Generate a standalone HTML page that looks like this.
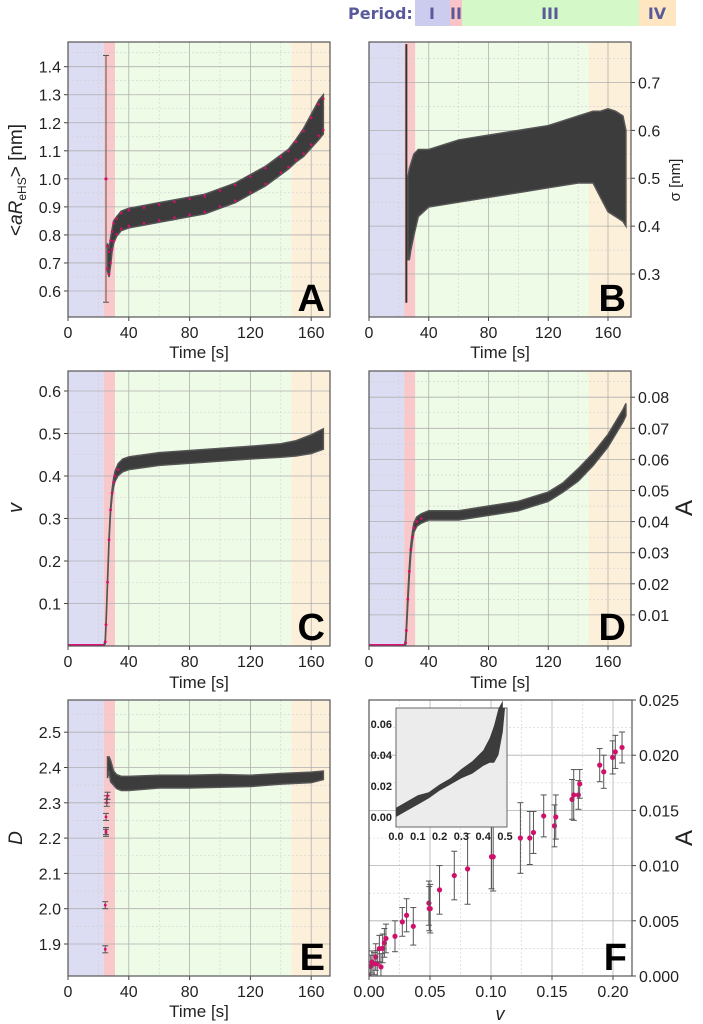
<!DOCTYPE html>
<html><head><meta charset="utf-8"><style>
body{margin:0;background:#fff;width:703px;height:1024px;overflow:hidden}
svg{display:block;font-family:"Liberation Sans",sans-serif}
</style></head><body>
<svg id="fig" width="703" height="1024" viewBox="0 0 703 1024">
<defs id="defs"></defs>
<g>
<rect x="415" y="0" width="35" height="26" fill="#cccdee"/>
<rect x="450" y="0" width="12" height="26" fill="#f8c4c8"/>
<rect x="462" y="0" width="177" height="26" fill="#d4f8c8"/>
<rect x="639" y="0" width="37" height="26" fill="#fde6c0"/>
<g fill="#5a5a9a" font-weight="bold" font-size="16" font-family="'DejaVu Sans',sans-serif">
<text x="348" y="19">Period:</text>
<text x="432" y="19" text-anchor="middle">I</text>
<text x="456" y="19" text-anchor="middle">II</text>
<text x="550" y="19" text-anchor="middle">III</text>
<text x="657" y="19" text-anchor="middle">IV</text>
</g></g>
</svg>
<script>
// ---------- data ----------
const periodBounds = [0, 23.5, 31, 147, 175];
// Panel A
const aTimes = [25,26,27,28,29,30,32,35,40,50,60,70,80,90,100,110,120,130,140,145,150,155,160,165,168];
const aMean  = [1.0,0.72,0.70,0.74,0.78,0.81,0.83,0.85,0.86,0.87,0.88,0.89,0.90,0.91,0.93,0.95,0.98,1.01,1.05,1.07,1.10,1.13,1.17,1.21,1.23];
const aHalf  = [0.45,0.05,0.05,0.05,0.04,0.04,0.035,0.035,0.035,0.035,0.035,0.035,0.035,0.035,0.035,0.035,0.035,0.035,0.035,0.035,0.04,0.05,0.06,0.07,0.07];
// Panel B
const bTimes = [25,26,27,28,30,33,40,60,80,100,120,140,150,155,160,165,170,172];
const bTop   = [0.78,0.50,0.52,0.53,0.55,0.56,0.56,0.58,0.59,0.60,0.61,0.63,0.64,0.64,0.645,0.64,0.63,0.60];
const bBot   = [0.24,0.33,0.33,0.35,0.38,0.42,0.44,0.45,0.46,0.47,0.48,0.49,0.49,0.46,0.43,0.42,0.41,0.40];
// Panel C
const cTimes = [0,23.5,24.5,25,26,27,28,29,30,31,33,36,40,60,80,100,120,140,150,160,168];
const cMean  = [0,0,0.01,0.05,0.15,0.25,0.32,0.36,0.385,0.40,0.415,0.425,0.43,0.44,0.445,0.45,0.455,0.46,0.465,0.475,0.487];
const cHalf  = [0,0,0.005,0.006,0.006,0.006,0.006,0.008,0.01,0.012,0.014,0.015,0.015,0.015,0.015,0.015,0.015,0.016,0.018,0.022,0.024];
// Panel D
const dTimes = [0,23.5,24.5,25,26,27,28,29,30,32,35,40,60,80,100,120,130,140,150,160,170,172];
const dMean  = [0,0,0.001,0.005,0.015,0.024,0.031,0.035,0.038,0.040,0.041,0.042,0.042,0.0435,0.045,0.048,0.051,0.055,0.060,0.066,0.074,0.076];
const dHalf  = [0,0,0.001,0.001,0.0015,0.0015,0.0015,0.0015,0.0015,0.0015,0.0015,0.0015,0.0015,0.0015,0.0015,0.0015,0.0015,0.002,0.002,0.002,0.002,0.002];
// Panel E
const eTimes = [26,27,28,30,32,35,40,60,80,100,120,140,160,168];
const eMean  = [2.40,2.41,2.39,2.37,2.36,2.355,2.355,2.36,2.36,2.362,2.362,2.368,2.372,2.378];
const eHalf  = [0.03,0.02,0.03,0.02,0.02,0.02,0.02,0.018,0.018,0.018,0.016,0.015,0.015,0.012];
const eEarlyT = [24.5,24.5,25,25,25,25.5,25.5,26];
const eEarlyV = [1.885,2.01,2.215,2.22,2.26,2.30,2.31,2.32];
// Panel F
const fV   = [0,0.0014,0.0025,0.0041,0.0055,0.0068,0.0085,0.0098,0.0112,0.0126,0.0139,0.0213,0.0273,0.0308,0.0363,0.0491,0.0494,0.0502,0.0578,0.0699,0.0808,0.1004,0.1018,0.1241,0.1318,0.1348,0.1432,0.1520,0.1531,0.1664,0.1678,0.1716,0.1727,0.1891,0.1924,0.1997,0.2019,0.2074];
const fA   = [0,0.00088,0.00127,0.00112,0.00172,0.00112,0.00248,0.00082,0.0025,0.0030,0.0034,0.0036,0.0049,0.0055,0.0045,0.0066,0.0061,0.0061,0.0078,0.0091,0.0097,0.0108,0.0108,0.0125,0.0125,0.0130,0.0145,0.0136,0.0144,0.0160,0.0164,0.0164,0.0174,0.0191,0.0185,0.0198,0.0203,0.0207];
const fErr = [0.001,0.001,0.001,0.001,0.0012,0.0012,0.0012,0.0012,0.0013,0.0013,0.0013,0.0014,0.0013,0.0015,0.0017,0.002,0.002,0.0022,0.0022,0.0022,0.0032,0.0029,0.0031,0.0032,0.0024,0.0019,0.0019,0.0019,0.002,0.0018,0.0023,0.0013,0.0013,0.0015,0.0015,0.0015,0.0015,0.0014];
// Inset
const insV = [0,0.05,0.1,0.15,0.2,0.25,0.3,0.35,0.4,0.43,0.45,0.47,0.49];
const insMean = [0.003,0.007,0.011,0.014,0.019,0.023,0.028,0.032,0.038,0.043,0.047,0.055,0.065];
const insHalf = [0.003,0.003,0.003,0.002,0.002,0.002,0.003,0.004,0.005,0.008,0.012,0.015,0.01];

const xTicksTime = [0,40,80,120,160];
const aTicks = [0.6,0.7,0.8,0.9,1.0,1.1,1.2,1.3,1.4];
const bTicks = [0.3,0.4,0.5,0.6,0.7];
const cTicks = [0.1,0.2,0.3,0.4,0.5,0.6];
const dTicks = [0.01,0.02,0.03,0.04,0.05,0.06,0.07,0.08];
const eTicks = [1.9,2.0,2.1,2.2,2.3,2.4,2.5];
const fXTicks = [0,0.05,0.10,0.15,0.20];
const fYTicks = [0,0.005,0.010,0.015,0.020,0.025];
const insXTicks = [0,0.1,0.2,0.3,0.4,0.5];
const insYTicks = [0,0.02,0.04,0.06];

// ---------- drawing ----------
const NS='http://www.w3.org/2000/svg';
const svg=document.getElementById('fig');
const defs=document.getElementById('defs');
function mk(tag,attrs,parent){const e=document.createElementNS(NS,tag);for(const k in attrs)e.setAttribute(k,attrs[k]);(parent||svg).appendChild(e);return e;}
function axis(x0,x1,d0,d1){return v=>x0+(v-d0)/(d1-d0)*(x1-x0);}
let clipN=0;
function panel(name,box,xd,yd,yTicks,yFmt,side,letter){
  const g=mk('g',{});
  
  
  const X=axis(box.x0,box.x1,xd[0],xd[1]), Y=axis(box.y1,box.y0,yd[0],yd[1]);
  const cid='clip'+(clipN++);
  const cp=mk('clipPath',{id:cid},defs);
  mk('rect',{x:box.x0,y:box.y0,width:box.x1-box.x0,height:box.y1-box.y0},cp);
  if(xd[2]){
    const cols=['#dcdcf2','#f9c8ca','#eefbe6','#fcf0da'];
    for(let i=0;i<4;i++){
      const r=mk('rect',{x:X(periodBounds[i]),y:box.y0,width:(i==3?box.x1:X(periodBounds[i+1]))-X(periodBounds[i]),height:box.y1-box.y0,fill:cols[i]},g);
      
      
    }
  } else {
    mk('rect',{x:box.x0,y:box.y0,width:box.x1-box.x0,height:box.y1-box.y0,fill:'#fff'},g);
  }
  const xt=xd[3];
  for(let i=0;i<xt.length;i++){
    mk('line',{x1:X(xt[i]),x2:X(xt[i]),y1:box.y0,y2:box.y1,stroke:'#b0b0b0','stroke-width':0.8},g);
    const m=xt[i]+(xt[1]-xt[0])/2; if(X(m)<box.x1)mk('line',{x1:X(m),x2:X(m),y1:box.y0,y2:box.y1,stroke:'#d0d0d0','stroke-width':0.6,'stroke-dasharray':'2,2'},g);
  }
  for(let i=0;i<yTicks.length;i++){
    mk('line',{x1:box.x0,x2:box.x1,y1:Y(yTicks[i]),y2:Y(yTicks[i]),stroke:'#b0b0b0','stroke-width':0.8},g);
    const step=yTicks[1]-yTicks[0];
    const m=yTicks[i]+step/2; if(Y(m)>box.y0)mk('line',{x1:box.x0,x2:box.x1,y1:Y(m),y2:Y(m),stroke:'#d0d0d0','stroke-width':0.6,'stroke-dasharray':'2,2'},g);
  }
  for(const t of yTicks){
    const tx=side==='left'?box.x0-7:box.x1+7;
    mk('line',{x1:side==='left'?box.x0-4:box.x1,x2:side==='left'?box.x0:box.x1+4,y1:Y(t),y2:Y(t),stroke:'#444'},g);
    const e=mk('text',{x:tx,y:Y(t)+6,'font-size':16,fill:'#222','text-anchor':side==='left'?'end':'start'},g);
    e.textContent=yFmt(t);
    
    
  }
  for(const t of xt){
    mk('line',{x1:X(t),x2:X(t),y1:box.y1,y2:box.y1+4,stroke:'#444'},g);
    const e=mk('text',{x:X(t),y:box.y1+21,'font-size':16,fill:'#222','text-anchor':'middle'},g);
    e.textContent=xd[4](t);
    
    
  }
  const d=mk('g',{'clip-path':`url(#${cid})`},g);
  const p={g,d,X,Y,box};
  p.frame=()=>{
    mk('rect',{x:box.x0,y:box.y0,width:box.x1-box.x0,height:box.y1-box.y0,fill:'none',stroke:'#555','stroke-width':1.2},g);
    if(letter){const e=mk('text',{x:box.x1-5,y:box.y1-6,'font-size':38,'font-weight':'bold',fill:'#000','text-anchor':'end'},g);
      e.textContent=letter;
      
      }
  };
  return p;
}
function band(p,ts,lo,hi,name){
  let d='';
  for(let i=0;i<ts.length;i++)d+=(i?'L':'M')+p.X(ts[i])+','+p.Y(hi[i]);
  for(let i=ts.length-1;i>=0;i--)d+='L'+p.X(ts[i])+','+p.Y(lo[i]);
  const e=mk('path',{d:d+'Z',fill:'#3c3c3c',stroke:'#555','stroke-width':1.5},p.d);
  
  
}
function pts(p,xs,ys,errs,r,name){
  for(let i=0;i<xs.length;i++){
    const x=p.X(xs[i]),y=p.Y(ys[i]);
    if(errs){const e=errs[i];
      mk('line',{x1:x,x2:x,y1:p.Y(ys[i]-e),y2:p.Y(ys[i]+e),stroke:'#555','stroke-width':1},p.d);
      mk('line',{x1:x-3,x2:x+3,y1:p.Y(ys[i]-e),y2:p.Y(ys[i]-e),stroke:'#555','stroke-width':1},p.d);
      mk('line',{x1:x-3,x2:x+3,y1:p.Y(ys[i]+e),y2:p.Y(ys[i]+e),stroke:'#555','stroke-width':1},p.d);}
    const c=mk('circle',{cx:x,cy:y,r:r,fill:'#d0106a'},p.d);
    
    
  }
}
function label(txt,x,y,size,rot,name,italic){
  const e=mk('text',{x:x,y:y,'font-size':size,fill:'#222','text-anchor':'middle',transform:rot?`rotate(${rot} ${x} ${y})`:'', 'font-style':italic?'italic':'normal'});
  e.innerHTML=txt;
  
  
  return e;
}
const f1=v=>v.toFixed(1), f2=v=>v.toFixed(2), f3=v=>v.toFixed(3), ti=v=>String(v);
const L={x0:68,x1:330}, R={x0:369,x1:631};
const tdomL=[0,(330-68)/1.52,true,xTicksTime,ti];
const tdomR=[0,175.4,true,xTicksTime,ti];

// A
let A=panel('panel-a',{x0:L.x0,x1:L.x1,y0:42,y1:317},tdomL,[0.6-(317-291)/280.4,0.6+(291-42)/280.4],aTicks,f1,'left','A');
band(A,aTimes.slice(1),aTimes.slice(1).map((t,i)=>aMean[i+1]-aHalf[i+1]),aTimes.slice(1).map((t,i)=>aMean[i+1]+aHalf[i+1]),'data-band-a');
pts(A,[aTimes[0]],[aMean[0]],[0.44],1.6,'point-a-early');
pts(A,aTimes.slice(1),aMean.slice(1).map((m,i)=>m+aHalf[i+1]*0.8),null,1.3,'point-a');
pts(A,aTimes.slice(1),aMean.slice(1).map((m,i)=>m-aHalf[i+1]*0.8),null,1.3,'point-a');
A.frame();
// B
let B=panel('panel-b',{x0:R.x0,x1:R.x1,y0:42,y1:317},tdomR,[0.3-(317-274)/478.8,0.3+(274-42)/478.8],bTicks,f1,'right','B');
band(B,bTimes.slice(1),bBot.slice(1),bTop.slice(1),'data-band-b');
mk('line',{x1:B.X(25),x2:B.X(25),y1:B.Y(bBot[0]),y2:B.Y(bTop[0]),stroke:'#333','stroke-width':2},B.d);
B.frame();
// C
let C=panel('panel-c',{x0:L.x0,x1:L.x1,y0:371,y1:646},tdomL,[0,(646-371)/425],cTicks,f1,'left','C');
band(C,cTimes,cTimes.map((t,i)=>cMean[i]-cHalf[i]),cTimes.map((t,i)=>cMean[i]+cHalf[i]),'data-band-c');
mk('line',{x1:C.X(0),x2:C.X(23.5),y1:C.Y(0)-1,y2:C.Y(0)-1,stroke:'#e0107a','stroke-width':2},C.d);
pts(C,cTimes.slice(2,11),cMean.slice(2,11),null,1.4,'point-c');
C.frame();
// D
let D=panel('panel-d',{x0:R.x0,x1:R.x1,y0:371,y1:646},tdomR,[0,(646-371)/3110],dTicks,f2,'right','D');
band(D,dTimes,dTimes.map((t,i)=>dMean[i]-dHalf[i]),dTimes.map((t,i)=>dMean[i]+dHalf[i]),'data-band-d');
mk('line',{x1:D.X(0),x2:D.X(23.5),y1:D.Y(0)-1,y2:D.Y(0)-1,stroke:'#e0107a','stroke-width':2},D.d);
pts(D,dTimes.slice(2,11),dMean.slice(2,11),null,1.4,'point-d');
D.frame();
// E
let E=panel('panel-e',{x0:L.x0,x1:L.x1,y0:700,y1:976},tdomL,[1.9-(976-944)/353,1.9+(944-700)/353],eTicks,f1,'left','E');
band(E,eTimes,eTimes.map((t,i)=>eMean[i]-eHalf[i]),eTimes.map((t,i)=>eMean[i]+eHalf[i]),'data-band-e');
pts(E,eEarlyT,eEarlyV,eEarlyV.map(()=>0.01),1.4,'point-e-early');
E.frame();
// F
let F=panel('panel-f',{x0:369,x1:632,y0:700,y1:976},[0,(632-369)/1220,false,fXTicks,f2],[0,0.025],fYTicks,f3,'right','F');
pts(F,fV,fA,fErr,2.6,'point-f');
F.frame();
// inset
const ig=mk('g',{});


const IX=axis(396,505,0,0.5), IY=axis(817,724,0,0.06);
mk('rect',{x:396,y:708,width:111,height:119,fill:'#ececec',stroke:'#666'},ig);
for(const t of insYTicks){const e=mk('text',{x:392,y:IY(t)+4,'font-size':11,'font-weight':'bold',fill:'#222','text-anchor':'end'},ig);e.textContent=t.toFixed(2);}
for(const t of insXTicks){const e=mk('text',{x:IX(t),y:840,'font-size':11,'font-weight':'bold',fill:'#222','text-anchor':'middle'},ig);e.textContent=t.toFixed(1);}
let idd='';
for(let i=0;i<insV.length;i++)idd+=(i?'L':'M')+IX(insV[i])+','+IY(insMean[i]+insHalf[i]);
idd+='L'+IX(0.49)+',708L'+IX(0.5)+',708';
for(let i=insV.length-1;i>=0;i--)idd+='L'+IX(insV[i])+','+IY(insMean[i]-insHalf[i]);
const ib=mk('path',{d:idd+'Z',fill:'#3c3c3c'},ig);



// axis titles
label('Time [s]',199,358,17,0,'x-axis-title-a');
label('Time [s]',500,358,17,0,'x-axis-title-b');
label('Time [s]',199,688,17,0,'x-axis-title-c');
label('Time [s]',500,688,17,0,'x-axis-title-d');
label('Time [s]',199,1017,17,0,'x-axis-title-e');
label('v',500,1020,18,0,'x-axis-title-f',true);
label('&lt;<tspan font-style="italic">aR</tspan><tspan font-size="12" dy="4">eHS</tspan><tspan dy="-4">&gt; [nm]</tspan>',22,180,19,-90,'y-axis-title-a');
label('σ [nm]',680,180,15,-90,'y-axis-title-b');
label('v',22,508,20,-90,'y-axis-title-c',true);
label('A',692,508,24,-90,'y-axis-title-d');
label('D',22,838,19,-90,'y-axis-title-e',true);
label('A',692,838,24,-90,'y-axis-title-f');
</script>
</body></html>
